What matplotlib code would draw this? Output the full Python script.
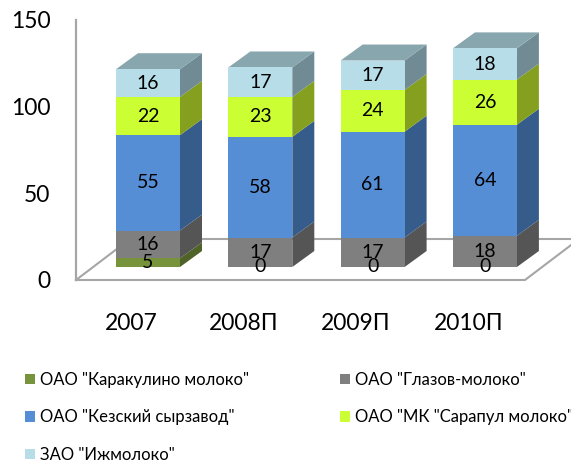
import matplotlib
matplotlib.use("Agg")
import matplotlib.pyplot as plt
from matplotlib.patches import Polygon, Patch
from matplotlib.transforms import ScaledTranslation

plt.rcParams['font.family'] = ['Lato', 'Open Sans', 'DejaVu Sans']

years = ["2007", "2008П", "2009П", "2010П"]
series_names = ['ОАО "Каракулино молоко"', 'ОАО "Глазов-молоко"', 'ОАО "Кезский сырзавод"',
                'ОАО "МК "Сарапул молоко"', 'ЗАО "Ижмолоко"']
karakulino = [5, 0, 0, 0]
glazov = [16, 17, 17, 18]
kezsky = [55, 58, 61, 64]
sarapul = [22, 23, 24, 26]
izhmoloko = [16, 17, 17, 18]
series = [karakulino, glazov, kezsky, sarapul, izhmoloko]
front_cols = ['#77933C', '#7F7F7F', '#558ED5', '#CCFF33', '#B7DEE8']
side_cols = ['#4F6228', '#555555', '#355C8A', '#85A01E', '#718B94']
top_col = '#88A6AE'
y_ticks = [0, 50, 100, 150]

W, H = 571, 461
fig = plt.figure(figsize=(W / 100, H / 100), dpi=100)
ax = fig.add_axes([0, 0, 1, 1])

PX_X = 112.3     # pixels per category
PX_Y = 1.735     # pixels per value unit
X0, Y0 = 148, 267  # pixel position of first bar centre / bar base
ax.set_xlim(-X0 / PX_X, (W - X0) / PX_X)
ax.set_ylim(-(H - Y0) / PX_Y, Y0 / PX_Y)

bar_w = 64 / PX_X
dx, dy = 22 / PX_X, 16 / PX_Y

# floor and wall, offset from the bars' base
fx0, fx1 = (76 - X0) / PX_X, (525 - X0) / PX_X
fy = -13 / PX_Y
bdx, bdy = 54 / PX_X, 41 / PX_Y
wall = '#A6A6A6'
ax.plot([fx0, fx0], [fy, (Y0 - 20) / PX_Y], color=wall, lw=1.6, zorder=0.5)
ax.plot([fx0, fx1, fx1 + bdx, fx0 + bdx, fx0], [fy, fy, fy + bdy, fy + bdy, fy],
        color=wall, lw=1.5, zorder=0.5, solid_joinstyle='miter')

for i in range(len(years)):
    base = 0
    left = i - bar_w / 2
    right = i + bar_w / 2
    for j, vals in enumerate(series):
        v = vals[i]
        ax.bar(i, v, bar_w, bottom=base, color=front_cols[j], lw=0, zorder=3)
        if v > 0:
            ax.add_patch(Polygon([(right, base), (right + dx, base + dy),
                                  (right + dx, base + v + dy), (right, base + v)],
                                 closed=True, facecolor=side_cols[j], edgecolor='none', zorder=2))
        base += v
    ax.add_patch(Polygon([(left, base), (right, base), (right + dx, base + dy), (left + dx, base + dy)],
                         closed=True, facecolor=top_col, edgecolor='none', zorder=2))

# value labels
for i in range(len(years)):
    base = 0
    for vals in series:
        v = vals[i]
        ax.text(i, base + v / 2, str(v), ha='center', va='center', fontsize=14, color='black', zorder=5)
        base += v

for s in ax.spines.values():
    s.set_visible(False)
ax.patch.set_visible(False)
ax.tick_params(length=0, labelsize=16.5, colors='black')
ax.set_xticks(range(len(years)))
ax.set_xticklabels(years)
ax.set_yticks(y_ticks)
ax.set_yticklabels([str(t) for t in y_ticks])
ax.tick_params(axis='x', pad=0)
ax.tick_params(axis='y', pad=0)

tr = fig.dpi_scale_trans
for lab in ax.get_yticklabels():
    lab.set_transform(lab.get_transform() + ScaledTranslation(50.5 / 100, -13 / 100, tr))
for lab in ax.get_xticklabels():
    lab.set_transform(lab.get_transform() + ScaledTranslation(-16.5 / 100, (H - 313) / 100, tr))

order = [0, 2, 4, 1, 3]
handles = [Patch(facecolor=front_cols[k], edgecolor='none', label=series_names[k]) for k in order]
leg = fig.legend(handles=handles, ncols=2, loc='upper left',
                 bbox_to_anchor=(25 / W, 1 - 372 / H), bbox_transform=fig.transFigure,
                 frameon=False, fontsize=12, handlelength=0.6, handleheight=0.6,
                 handletextpad=0.3, labelspacing=1.28, columnspacing=5.46, borderpad=0, borderaxespad=0)

fig.savefig("out.png", dpi=100)
